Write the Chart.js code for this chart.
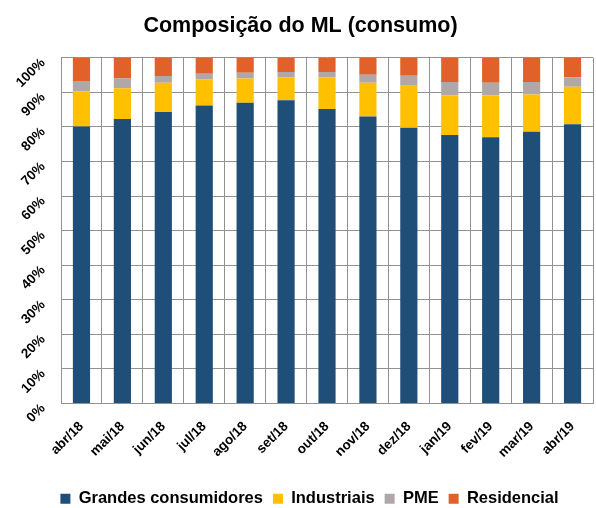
<!DOCTYPE html>
<html>
<head>
<meta charset="utf-8">
<script src="https://cdn.jsdelivr.net/npm/chart.js@4"></script>
<style>
  html, body { margin: 0; padding: 0; background: #fff; }
  #wrap { width: 596px; height: 508px; }
</style>
</head>
<body>
<div id="wrap"><canvas id="chart"></canvas></div>
<script>
// Composição do ML (consumo) - shares per month, in %
const meses = ["abr/18", "mai/18", "jun/18", "jul/18", "ago/18", "set/18", "out/18", "nov/18", "dez/18", "jan/19", "fev/19", "mar/19", "abr/19"];
const grandes = [80.1, 82.3, 84.3, 86.2, 87.0, 87.7, 85.2, 83.0, 79.8, 77.7, 77.0, 78.6, 80.8];
const industriais = [10.2, 8.9, 8.5, 7.6, 7.0, 6.7, 9.2, 9.8, 12.1, 11.4, 12.1, 10.8, 10.8];
const pme = [3.0, 2.8, 1.9, 1.6, 1.7, 1.5, 1.5, 2.3, 2.9, 3.9, 3.7, 3.6, 2.8];
const residencial = [6.7, 6.0, 5.3, 4.6, 4.3, 4.1, 4.1, 4.9, 5.2, 7.0, 7.2, 7.0, 5.6];
const yTicks = [0, 10, 20, 30, 40, 50, 60, 70, 80, 90, 100];

const FONT = "'Liberation Sans', Arial, sans-serif";
const GRID = '#929292';

// title and legend sit a bit right of the canvas centre in the original
const nudge = {
  id: 'nudge',
  afterLayout(chart) {
    chart.titleBlock.left += 4; chart.titleBlock.right += 4;
    chart.legend.left += 13; chart.legend.right += 13;
  }
};

new Chart(document.getElementById('chart'), {
  type: 'bar',
  data: {
    labels: meses,
    datasets: [
      { label: 'Grandes consumidores', data: grandes, backgroundColor: '#1F4E79' },
      { label: 'Industriais', data: industriais, backgroundColor: '#FFC000' },
      { label: 'PME', data: pme, backgroundColor: '#B0A8A8' },
      { label: 'Residencial', data: residencial, backgroundColor: '#E1612A' }
    ]
  },
  plugins: [nudge],
  options: {
    responsive: true,
    maintainAspectRatio: false,
    animation: false,
    datasets: { bar: { categoryPercentage: 1, barPercentage: 0.42, borderWidth: 0 } },
    layout: { padding: { left: 0, right: 3, top: 0, bottom: -9 } },
    plugins: {
      title: {
        display: true,
        text: 'Composição do ML (consumo)',
        color: '#000',
        font: { family: FONT, size: 21.5, weight: 'bold' },
        padding: { top: 13, bottom: 19 }
      },
      legend: {
        position: 'bottom',
        labels: {
          color: '#000',
          font: { family: FONT, size: 16.5, weight: 'bold' },
          boxWidth: 10,
          boxHeight: 10,
          padding: 10
        }
      },
      tooltip: { enabled: false }
    },
    scales: {
      x: {
        stacked: true,
        grid: { color: GRID, lineWidth: 1, drawTicks: false, offset: true },
        border: { color: GRID },
        ticks: {
          color: '#000',
          font: { family: FONT, size: 13.5, weight: 'bold' },
          minRotation: 45,
          maxRotation: 45,
          padding: 15
        },
        afterFit: (s) => { s.height = 77; s.paddingLeft = 0; s.paddingRight = 0; }
      },
      y: {
        stacked: true,
        min: 0,
        max: 100,
        afterBuildTicks: (s) => { s.ticks = yTicks.map(v => ({ value: v })); },
        grid: { color: GRID, lineWidth: 1, drawTicks: false },
        border: { color: GRID },
        ticks: {
          color: '#000',
          font: { family: FONT, size: 13.5, weight: 'bold' },
          autoSkip: false,
          minRotation: 45,
          maxRotation: 45,
          padding: 18,
          labelOffset: 3,
          callback: (v) => v + '%'
        },
        afterFit: (s) => { s.width = 61; s.paddingTop = 0; s.paddingBottom = 0; }
      }
    }
  }
});
</script>
</body>
</html>
